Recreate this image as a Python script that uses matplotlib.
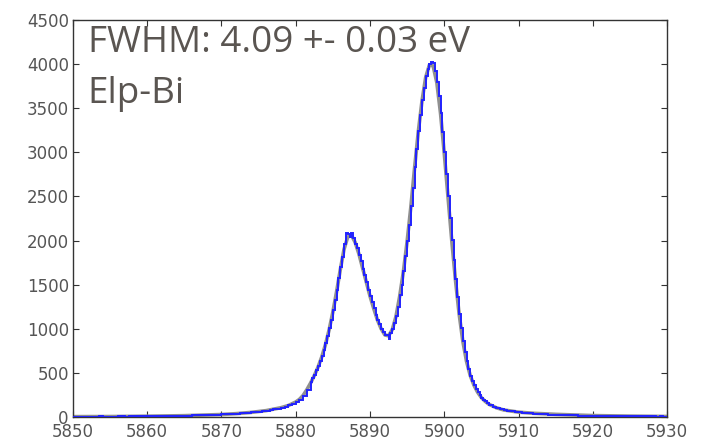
import numpy as np
import matplotlib
matplotlib.use('Agg')
import matplotlib.pyplot as plt

# histogram counts, three bin ranges
# left tail: 0.5 eV bins, 5850-5882
counts_left = [
    3, 2, 4, 3, 5, 3, 4, 6, 4, 5, 5, 4, 6, 7, 5, 6, 8, 7, 6, 9,
    8, 10, 9, 11, 10, 12, 13, 12, 14, 15, 16, 15, 18, 19, 20, 22, 21, 24, 26, 27,
    29, 31, 34, 36, 39, 42, 46, 50, 53, 57,
    62, 68, 73, 80, 88, 96, 106, 118, 131, 146,
    165, 190, 240, 310,
]
# core: 0.25 eV bins, 5882-5906
counts_core = [
    400, 440, 480, 530, 575, 630, 690, 760, 835, 920, 1010, 1100,
    1210, 1330, 1440, 1570, 1700, 1810, 1960, 2080, 2070, 2040, 2085, 2030,
    1960, 1920, 1840, 1770, 1680, 1610, 1530, 1440, 1370, 1300, 1230, 1160,
    1100, 1050, 1000, 960, 925, 930, 880, 950, 995, 1060, 1150, 1250,
    1380, 1500, 1660, 1820, 2000, 2180, 2390, 2600, 2830, 3040, 3240, 3420,
    3590, 3730, 3860, 3940, 4000, 4020, 4010, 3920, 3800, 3640, 3450, 3230,
    3000, 2750, 2500, 2260, 2010, 1780, 1560, 1360, 1170, 1010, 860, 740,
    630, 545, 470, 410, 360, 315, 280, 245, 220, 198, 178, 160,
]
# right tail: 0.5 eV bins, 5906-5930
counts_right = [
    140, 115, 100, 88, 78, 70, 63, 57,
    52, 48, 44, 41, 38, 35, 32, 30, 28, 26, 24, 22, 21, 19, 18, 17, 16, 15, 14, 13,
    12, 11, 12, 10, 11, 9, 10, 9, 8, 9, 8, 7, 8, 7, 6, 7, 6, 5, 6, 5,
]

# fitted model curve
fit_e = [5850, 5855, 5860, 5865, 5870, 5872, 5874, 5876, 5878, 5879,
         5880, 5880.5, 5881, 5881.5, 5882, 5882.5, 5883, 5883.5, 5884, 5884.5,
         5885, 5885.5, 5886, 5886.5, 5887, 5887.5, 5888, 5888.5, 5889, 5889.5,
         5890, 5890.5, 5891, 5891.5, 5892, 5892.5, 5893, 5893.5, 5894, 5894.5,
         5895, 5895.5, 5896, 5896.5, 5897, 5897.5, 5898, 5898.5, 5899, 5899.5,
         5900, 5900.5, 5901, 5901.5, 5902, 5902.5, 5903, 5903.5, 5904, 5904.5,
         5905, 5905.5, 5906, 5907, 5908, 5910, 5912, 5915, 5920, 5925, 5930]
fit_y = [4, 5, 9, 15, 28, 38, 52, 72, 105, 130,
         170, 200, 245, 310, 385, 470, 565, 680, 820, 990,
         1190, 1420, 1670, 1900, 2040, 2060, 1980, 1850, 1690, 1530,
         1370, 1230, 1100, 1000, 930, 920, 990, 1140, 1370, 1650,
         1990, 2380, 2820, 3230, 3580, 3850, 3990, 3980, 3790, 3440,
         2990, 2500, 2010, 1560, 1170, 860, 630, 470, 360, 280,
         220, 178, 145, 105, 80, 55, 42, 30, 16, 10, 6]

label_fwhm = 'FWHM: 4.09 +- 0.03 eV'
label_name = 'Elp-Bi'

counts = counts_left + counts_core + counts_right
edges = np.concatenate([
    np.arange(5850, 5882, 0.5),
    np.arange(5882, 5906, 0.25),
    np.arange(5906, 5930.01, 0.5),
])

fig = plt.figure(figsize=(7.08, 4.42), dpi=100)
ax = fig.add_axes([0.1031, 0.0566, 0.8390, 0.8982])

ax.plot(fit_e, fit_y, color='#8f8f8f', lw=2.6, zorder=2)
ax.stairs(counts, edges, color='#2222ff', lw=1.4, zorder=3)

ax.set_xlim(5850, 5930)
ax.set_ylim(0, 4500)
ax.set_xticks(np.arange(5850, 5931, 10))
ax.set_yticks(np.arange(0, 4501, 500))

ax.tick_params(direction='in', top=True, right=True, length=4, width=0.8,
               labelsize=12, colors='#333333', labelcolor='#555555', pad=3)
ax.tick_params(axis='x', pad=4)
for s in ax.spines.values():
    s.set_color('#333333')
    s.set_linewidth(1.0)

ax.text(0.025, 0.988, label_fwhm, transform=ax.transAxes, ha='left', va='top',
        fontsize=26.5, family='Open Sans', color='#5a5551')
ax.text(0.025, 0.86, label_name, transform=ax.transAxes, ha='left', va='top',
        fontsize=26.5, family='Open Sans', color='#5a5551')

fig.savefig('out.png', dpi=100)
